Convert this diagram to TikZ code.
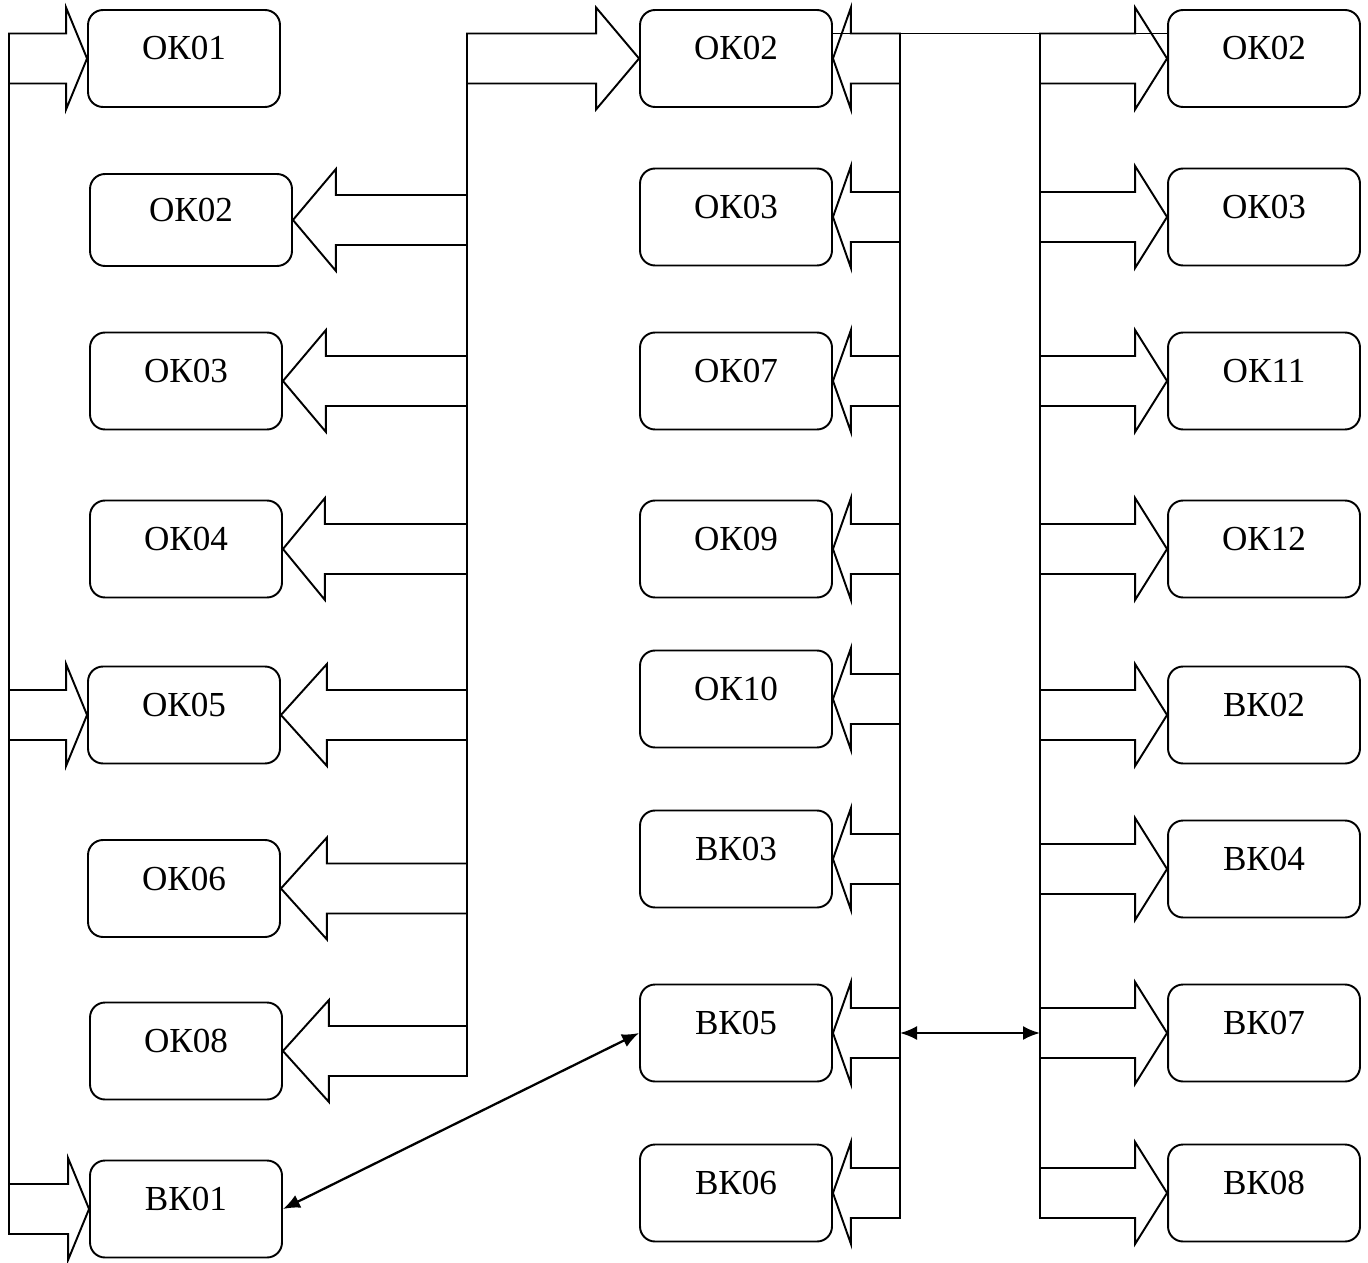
\documentclass[tikz,border=0pt]{standalone}
\usepackage{fontspec}
\setmainfont{Liberation Serif}
\usepackage{tikz}
\usetikzlibrary{calc, arrows.meta}
\tikzset{
    modnode/.style = {draw, rectangle, rounded corners=0.3cm, line width=1.1pt, inner sep=0em,
      minimum width=3.84cm, text height=1cm, text depth=0.94cm, font=\fontsize{20}{24}\selectfont},
    fatarrow/.style = {draw, line width=1.1pt, line join=miter},
    busline/.style = {draw, line width=1.1pt},
    link/.style = {line width=1.3pt, {Latex[length=0.34cm,width=0.28cm]}-{Latex[length=0.34cm,width=0.28cm]}}
}
% block arrow: tip, tail (only x used), head offset from tip
\newcommand{\blockarrow}[3]{%
  \draw[fatarrow] let \p1=#1, \p2=#2 in
    (\x2,{\y1+0.5cm}) -- ({\x1+(#3)},{\y1+0.5cm}) -- ({\x1+(#3)},{\y1+1.02cm}) -- (\x1,\y1)
    -- ({\x1+(#3)},{\y1-1.02cm}) -- ({\x1+(#3)},{\y1-0.5cm}) -- (\x2,{\y1-0.5cm}) -- cycle;}

\begin{document}
\begin{tikzpicture}[x=0.02cm, y=-0.02cm]
    \useasboundingbox (0,0) rectangle (1368,1263);

    \node [name=okl01, modnode] at (184,58.5) {ОК01};
    \node [name=okl02, modnode, minimum width=4.04cm, text height=0.96cm, text depth=0.88cm] at (191,220) {ОК02};
    \node [name=okl03, modnode] at (186,381) {ОК03};
    \node [name=okl04, modnode] at (186,549) {ОК04};
    \node [name=okl05, modnode] at (184,715) {ОК05};
    \node [name=okl06, modnode] at (184,888.5) {ОК06};
    \node [name=okl08, modnode] at (186,1051) {ОК08};
    \node [name=bkl01, modnode] at (186,1209) {ВК01};

    \node [name=okm02, modnode] at (736,58.5) {ОК02};
    \node [name=okm03, modnode] at (736,217) {ОК03};
    \node [name=okm07, modnode] at (736,381) {ОК07};
    \node [name=okm09, modnode] at (736,549) {ОК09};
    \node [name=okm10, modnode] at (736,699) {ОК10};
    \node [name=bkm03, modnode] at (736,859) {ВК03};
    \node [name=bkm05, modnode] at (736,1033) {ВК05};
    \node [name=bkm06, modnode] at (736,1193) {ВК06};

    \node [name=okr02, modnode] at (1264,58.5) {ОК02};
    \node [name=okr03, modnode] at (1264,217) {ОК03};
    \node [name=okr11, modnode] at (1264,381) {ОК11};
    \node [name=okr12, modnode] at (1264,549) {ОК12};
    \node [name=bkr02, modnode] at (1264,715) {ВК02};
    \node [name=bkr04, modnode] at (1264,869) {ВК04};
    \node [name=bkr07, modnode] at (1264,1033) {ВК07};
    \node [name=bkr08, modnode] at (1264,1193) {ВК08};

    \coordinate (obus top) at (9,84);
    \coordinate (obus bot) at (9,1184);
    \coordinate (lbus top) at (467,34);
    \coordinate (lbus bot) at (467,1076);
    \coordinate (mbus top) at (900,33);
    \coordinate (mbus bot) at (900,1218);
    \coordinate (rbus top) at (1040,33);
    \coordinate (rbus bot) at (1040,1168);
    \draw[busline] (obus top) -- (obus bot);
    \draw[busline] (lbus top) -- (lbus bot);
    \draw[busline] (mbus top) -- (mbus bot);
    \draw[busline] (rbus top) -- (rbus bot);

    \blockarrow{(okl01.west)}{(obus top)}{-0.42cm}
    \blockarrow{(okl05.west)}{(obus top)}{-0.42cm}
    \blockarrow{(bkl01.west)}{(obus top)}{-0.42cm}
    \foreach \mn/\hd in {okl02/0.86cm, okl03/0.86cm, okl04/0.84cm, okl05/0.92cm, okl06/0.92cm, okl08/0.92cm}
      {\blockarrow{(\mn.east)}{(lbus top)}{\hd}}
    \blockarrow{(okm02.west)}{(lbus top)}{-0.86cm}
    \foreach \mn in {okm02, okm03, okm07, okm09, okm10, bkm03, bkm05, bkm06}
      {\blockarrow{(\mn.east)}{(mbus top)}{0.36cm}}
    \foreach \mn in {okr02, okr03, okr11, okr12, bkr02, bkr04, bkr07, bkr08}
      {\blockarrow{(\mn.west)}{(rbus top)}{-0.64cm}}

    \draw[busline] ([yshift=0.5cm]okm02.east) -- ([yshift=0.5cm]okr02.west);
    \draw[link] (bkl01.east) -- (bkm05.west);
    \draw[link] (mbus top |- bkm05) -- (rbus top |- bkm05);
\end{tikzpicture}
\end{document}
